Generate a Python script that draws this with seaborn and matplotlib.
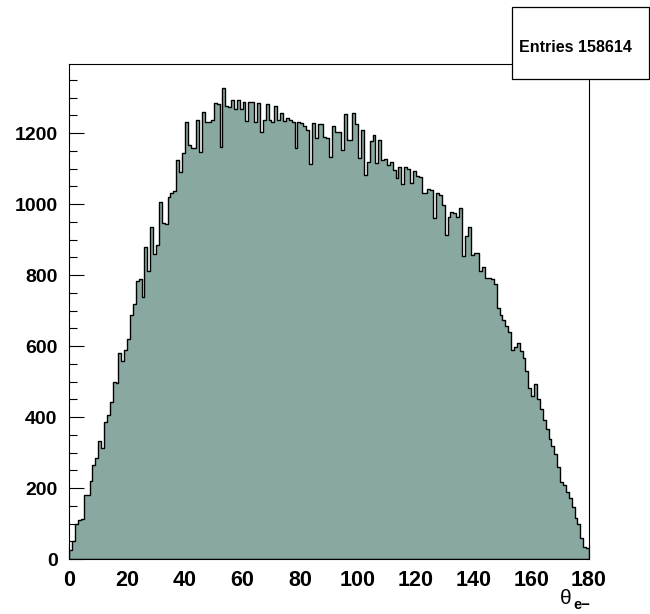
import numpy as np
import pandas as pd
import matplotlib
matplotlib.use("Agg")
import matplotlib.pyplot as plt
from matplotlib import font_manager as fm
from matplotlib.patches import Rectangle
from matplotlib.ticker import MultipleLocator
import seaborn as sns

# ---- data (1-degree bins, 0..180) ----
bin_edges = list(range(0, 181))
counts = [
    25, 50, 100, 110, 112, 179, 181, 221, 264, 284,
    331, 312, 386, 407, 442, 500, 497, 579, 557, 590,
    621, 686, 719, 782, 789, 737, 878, 812, 934, 858,
    884, 1005, 946, 944, 1020, 1032, 1037, 1124, 1089, 1144,
    1232, 1165, 1157, 1157, 1236, 1147, 1260, 1230, 1230, 1237,
    1285, 1282, 1160, 1328, 1275, 1272, 1292, 1268, 1293, 1269,
    1286, 1235, 1288, 1288, 1230, 1285, 1204, 1238, 1281, 1236,
    1230, 1276, 1236, 1256, 1235, 1241, 1236, 1230, 1157, 1230,
    1229, 1220, 1208, 1113, 1227, 1185, 1225, 1225, 1190, 1185,
    1133, 1220, 1204, 1204, 1152, 1253, 1180, 1180, 1257, 1225,
    1131, 1209, 1082, 1119, 1177, 1194, 1115, 1180, 1125, 1128,
    1110, 1117, 1096, 1072, 1105, 1056, 1103, 1099, 1058, 1093,
    1080, 1075, 1032, 1032, 1041, 1039, 960, 1030, 1025, 997,
    913, 962, 978, 974, 962, 988, 854, 910, 936, 856,
    861, 863, 812, 822, 791, 791, 788, 775, 706, 687,
    672, 655, 640, 589, 596, 609, 587, 565, 530, 483,
    459, 493, 450, 422, 391, 365, 337, 318, 296, 260,
    218, 208, 190, 171, 147, 116, 98, 58, 35, 30,
]
x_ticks = [0, 20, 40, 60, 80, 100, 120, 140, 160, 180]
y_ticks = [0, 200, 400, 600, 800, 1000, 1200]
entries_text = "Entries 158614"

centers = [(a + b) / 2 for a, b in zip(bin_edges[:-1], bin_edges[1:])]
df = pd.DataFrame({"theta": centers, "n": counts})

sns.set_theme(style="white")
plt.rcParams["font.family"] = ["Liberation Sans", "DejaVu Sans"]
plt.rcParams["text.color"] = "black"
plt.rcParams["xtick.color"] = "black"
plt.rcParams["ytick.color"] = "black"
plt.rcParams["xtick.labelcolor"] = "black"
plt.rcParams["ytick.labelcolor"] = "black"
plt.rcParams["axes.edgecolor"] = "black"

W, H = 650, 614
fig = plt.figure(figsize=(W / 100, H / 100), dpi=100)
L, R, T, B = 69.4, 589.0, 64.0, 559.0
ax = fig.add_axes([L / W, 1 - B / H, (R - L) / W, (B - T) / H])

sns.histplot(
    data=df, x="theta", weights="n", bins=bin_edges, element="step",
    fill=True, facecolor="#88a8a1", edgecolor="black", linewidth=1.0,
    alpha=1.0, ax=ax, legend=False,
)

ax.set_xlim(0, 180)
ax.set_ylim(0, max(counts) * 1.05)
ax.set_xlabel("")
ax.set_ylabel("")
ax.set_xticks(x_ticks)
ax.set_yticks(y_ticks)
ax.xaxis.set_minor_locator(MultipleLocator(5))
ax.yaxis.set_minor_locator(MultipleLocator(50))

ax.set_xticklabels([str(v) for v in x_ticks], fontsize=15.5, fontweight="bold",
                   color="black")
ax.set_yticklabels([str(v) for v in y_ticks], fontsize=14, fontweight="bold",
                   color="black")

ax.tick_params(axis="both", which="major", direction="in", length=11,
               width=0.8, color="black", top=False, right=False,
               bottom=True, left=True)
ax.tick_params(axis="both", which="minor", direction="in", length=5.5,
               width=0.8, color="black", top=False, right=False,
               bottom=True, left=True)
ax.tick_params(axis="x", which="major", pad=8)
ax.tick_params(axis="y", which="major", pad=8.5)

for s in ax.spines.values():
    s.set_color("black")
    s.set_linewidth(0.8)
    s.set_visible(True)
ax.grid(False)

# stats box
bx0, by0, bx1, by1 = 512, 7, 649, 79
fig.patches.append(Rectangle((bx0 / W, 1 - by1 / H), (bx1 - bx0) / W,
                             (by1 - by0) / H, transform=fig.transFigure,
                             facecolor="white", edgecolor="black",
                             linewidth=0.9, zorder=10))
fig.text(575 / W, 1 - 47 / H, entries_text, ha="center", va="center",
         fontsize=11.5, fontweight="bold", zorder=11, color="black")

# axis title
fig.text(566 / W, 1 - 598 / H, "θ", ha="center", va="center", fontsize=15,
         color="black")
fig.text(582 / W, 1 - 605 / H, "e\u2212", ha="center", va="center",
         fontsize=10.5, fontweight="bold", color="black")

fig.savefig("out.png", dpi=100)
